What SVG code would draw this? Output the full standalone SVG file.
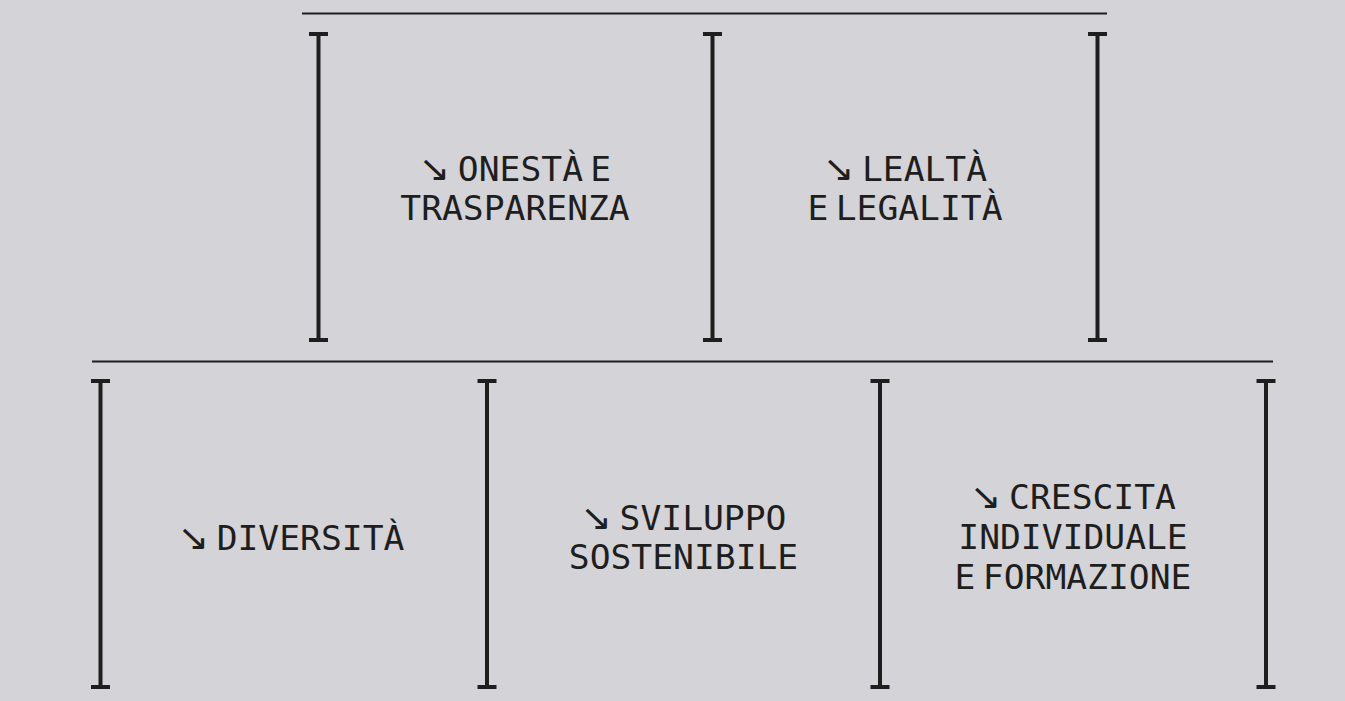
<svg xmlns="http://www.w3.org/2000/svg" width="1345" height="701" viewBox="0 0 1345 701">
<style>
.bg{fill:#d4d3d7}
.rule{stroke:#1e1e1e;stroke-width:2;fill:none}
.br{stroke:#1e1e1e;stroke-width:4;fill:none}
.t{font-family:"DejaVu Sans Mono","Liberation Mono",monospace;font-size:33px;fill:#1e1e1e;text-anchor:middle}
.a{font-family:"DejaVu Sans","Liberation Sans",sans-serif;font-size:36px}
.s{font-family:"DejaVu Sans","Liberation Sans",sans-serif;font-size:22px}
</style>
<defs>
<path id="brTop" d="M-9.5,34 H9.5 M0,34 V340 M-9.5,340 H9.5"/>
<path id="brBot" d="M-9.5,381 H9.5 M0,381 V687 M-9.5,687 H9.5"/>
</defs>
<rect class="bg" x="0" y="0" width="1345" height="701"/>
<g id="connectors">
<line class="rule" x1="302" y1="13.5" x2="1107" y2="13.5"/>
<line class="rule" x1="92" y1="361.5" x2="1273" y2="361.5"/>
<use href="#brTop" class="br" x="318.5"/>
<use href="#brTop" class="br" x="712.5"/>
<use href="#brTop" class="br" x="1097.5"/>
<use href="#brBot" class="br" x="100.5"/>
<use href="#brBot" class="br" x="487"/>
<use href="#brBot" class="br" x="880"/>
<use href="#brBot" class="br" x="1266"/>
</g>
<g id="node-onesta" transform="translate(515,0) scale(1.05,1)">
<text class="t" x="0" y="181.5"><tspan class="a">↘</tspan><tspan class="s"> </tspan>ONESTÀ<tspan class="s"> </tspan>E</text>
<text class="t" x="0" y="220.5">TRASPARENZA</text>
</g>
<g id="node-lealta" transform="translate(905,0) scale(1.05,1)">
<text class="t" x="0" y="181.5"><tspan class="a">↘</tspan><tspan class="s"> </tspan>LEALTÀ</text>
<text class="t" x="0" y="220.5">E<tspan class="s"> </tspan>LEGALITÀ</text>
</g>
<g id="node-diversita" transform="translate(291,0) scale(1.05,1)">
<text class="t" x="0" y="550"><tspan class="a">↘</tspan><tspan class="s"> </tspan>DIVERSITÀ</text>
</g>
<g id="node-sviluppo" transform="translate(683.5,0) scale(1.05,1)">
<text class="t" x="0" y="530.5"><tspan class="a">↘</tspan><tspan class="s"> </tspan>SVILUPPO</text>
<text class="t" x="0" y="569.5">SOSTENIBILE</text>
</g>
<g id="node-crescita" transform="translate(1073,0) scale(1.05,1)">
<text class="t" x="0" y="509"><tspan class="a">↘</tspan><tspan class="s"> </tspan>CRESCITA</text>
<text class="t" x="0" y="549">INDIVIDUALE</text>
<text class="t" x="0" y="589">E<tspan class="s"> </tspan>FORMAZIONE</text>
</g>
</svg>
